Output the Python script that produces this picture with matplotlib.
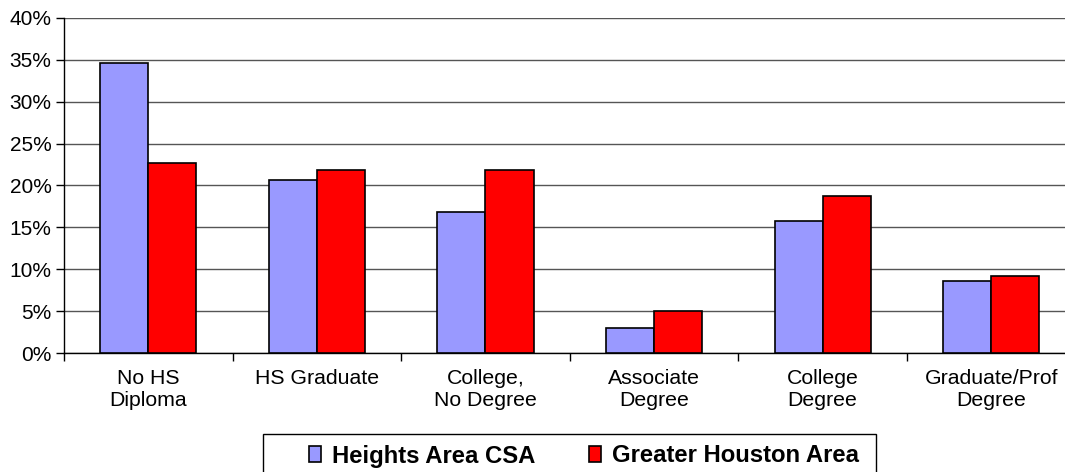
import numpy as np
import matplotlib
matplotlib.use('Agg')
import matplotlib.pyplot as plt
from matplotlib.ticker import FixedLocator
from matplotlib.patches import Rectangle

plt.rcParams['font.family'] = ['Liberation Sans', 'DejaVu Sans']

# Education attainment data (share of population)
categories = ['No HS\nDiploma', 'HS Graduate', 'College,\nNo Degree',
              'Associate\nDegree', 'College\nDegree', 'Graduate/Prof\nDegree']
heights_csa = [34.6, 20.6, 16.9, 3.05, 15.8, 8.6]
greater_houston = [22.7, 21.9, 21.9, 5.07, 18.8, 9.2]
series_names = ['Heights Area CSA', 'Greater Houston Area']

fig = plt.figure(figsize=(10.65, 4.72), dpi=100)
# the right end of the axis runs past the picture edge like the original
ax = fig.add_axes([64/1065, 118.7/472, 1011.5/1065, 335.6/472])

x = np.arange(len(categories))
w = 0.285
ax.bar(x - w/2, heights_csa, w, color='#9999FF', edgecolor='black', linewidth=1.2,
       label=series_names[0], zorder=3)
ax.bar(x + w/2, greater_houston, w, color='#FF0000', edgecolor='black', linewidth=1.2,
       label=series_names[1], zorder=3)

ax.set_xlim(-0.5, len(categories) - 0.5)
ax.set_ylim(0, 40)
ax.set_yticks(np.arange(0, 41, 5))
ax.set_yticklabels(['%d%%' % v for v in range(0, 41, 5)], fontsize=15)
ax.yaxis.grid(True, color='#555555', linewidth=1.0, zorder=0)

ax.set_xticks(x)
ax.set_xticklabels(categories, fontsize=15.3, linespacing=1.22)
ax.tick_params(axis='x', which='major', length=0, pad=11)
ax.xaxis.set_minor_locator(FixedLocator(np.arange(-0.5, len(categories), 1.0)))
ax.tick_params(axis='x', which='minor', length=6, width=1, color='black')
ax.tick_params(axis='y', length=6, width=1, pad=3)

for s in ['top', 'right']:
    ax.spines[s].set_visible(False)
ax.spines['left'].set_linewidth(1.0)
ax.spines['bottom'].set_linewidth(1.0)

# legend box runs off the bottom of the picture, as in the original
fig.patches.append(Rectangle((263/1065, -0.05), (876 - 263)/1065, 1.05 - 434/472,
                             transform=fig.transFigure, facecolor='white',
                             edgecolor='black', linewidth=1.0))
leg = fig.legend(loc='center left', bbox_to_anchor=(309/1065, 1 - 456/472), ncol=2,
                 frameon=False, prop={'weight': 'bold', 'size': 17.2},
                 handlelength=0.5, handleheight=0.63, handletextpad=0.46,
                 columnspacing=2.26, borderpad=0, borderaxespad=0)
for h in leg.legend_handles:
    h.set_linewidth(1.2)

fig.savefig('out.png', dpi=100)
